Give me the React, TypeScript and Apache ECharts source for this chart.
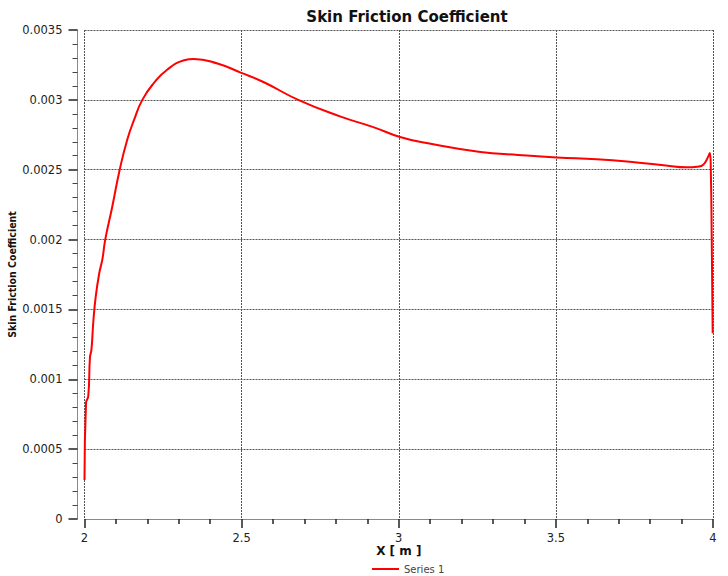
import React, { useEffect, useRef } from "react";
import * as echarts from "echarts";

const xValues: number[] = [
  2.0, 2.0048, 2.012, 2.0175, 2.022, 2.028, 2.0356, 2.047, 2.057, 2.066, 2.0885, 2.112,
  2.136, 2.158, 2.184, 2.221, 2.263, 2.317, 2.348, 2.423, 2.497, 2.571, 2.68, 2.813,
  2.919, 3.004, 3.089, 3.26, 3.38, 3.503, 3.63, 3.757, 3.85, 3.916, 3.95, 3.969,
  3.985, 3.99, 3.993, 3.996, 3.999,
];
const cfValues: number[] = [
  0.00028, 0.00083, 0.00088, 0.00116, 0.00121, 0.00141, 0.00159, 0.00176, 0.00186, 0.002,
  0.002237, 0.0025, 0.002715, 0.002858, 0.003, 0.003121, 0.003216, 0.003283, 0.003293,
  0.00326, 0.003195, 0.003126, 0.003, 0.002882, 0.002805, 0.002734, 0.002691,
  0.002627, 0.002606, 0.002588, 0.002575, 0.002552, 0.00253, 0.002517, 0.002522, 0.002536,
  0.002595, 0.00262, 0.0025, 0.002, 0.00133,
];

const titleText = "Skin Friction Coefficient";
const xAxisName = "X [ m ]";
const yAxisName = "Skin Friction Coefficient";
const seriesName = "Series 1";

export default function App() {
  const ref = useRef<HTMLDivElement>(null);
  useEffect(() => {
    document.body.style.margin = "0";
    const chart = echarts.init(ref.current!, undefined, { renderer: "svg" });
    const font = "DejaVu Sans";
    const gridLine = { show: true, lineStyle: { color: "#555", type: [2, 1] as any, width: 1 } };
    chart.setOption({
      animation: false,
      backgroundColor: "#fff",
      title: {
        text: titleText,
        left: 402,
        textAlign: "center",
        top: 4,
        textStyle: { fontFamily: font, fontSize: 15, fontWeight: "bold", color: "#111" },
      },
      legend: {
        left: 367,
        top: 559,
        icon: "rect",
        itemWidth: 27,
        itemHeight: 2,
        itemGap: 10,
        textStyle: { fontFamily: font, fontSize: 10, color: "#444" },
        data: [seriesName],
      },
      grid: {
        left: 84.5,
        right: 15,
        top: 30,
        bottom: 57,
        containLabel: false,
        outerBoundsMode: "none",
      } as any,
      xAxis: {
        type: "value",
        min: 2,
        max: 4,
        interval: 0.5,
        offset: 5,
        name: xAxisName,
        nameLocation: "middle",
        nameGap: 20,
        nameMoveOverlap: false,
        nameTextStyle: { fontFamily: font, fontSize: 12, fontWeight: "bold", color: "#111", lineHeight: 13 },
        axisLine: { show: true, lineStyle: { color: "#888", width: 1 } },
        axisTick: { show: true, length: 9, lineStyle: { color: "#222", width: 1.5 } },
        minorTick: { show: true, splitNumber: 5, length: 5, lineStyle: { color: "#222", width: 1.5 } },
        axisLabel: { fontFamily: font, fontSize: 11.5, color: "#222", margin: 8, lineHeight: 12 },
        splitLine: gridLine,
      } as any,
      yAxis: {
        type: "value",
        min: 0,
        max: 0.0035,
        interval: 0.0005,
        offset: 7,
        name: yAxisName,
        nameLocation: "middle",
        nameGap: 60,
        nameMoveOverlap: false,
        nameTextStyle: {
          fontFamily: "DejaVu Sans Condensed",
          fontSize: 10.5,
          fontWeight: "bold",
          color: "#111",
        },
        axisLine: { show: true, lineStyle: { color: "#888", width: 1 } },
        axisTick: { show: true, length: 9, lineStyle: { color: "#222", width: 1.5 } },
        minorTick: { show: true, splitNumber: 5, length: 5, lineStyle: { color: "#444", width: 1 } },
        axisLabel: {
          fontFamily: font,
          fontSize: 11.5,
          color: "#222",
          margin: 15,
          formatter: (v: number) => parseFloat(v.toFixed(4)).toString(),
        },
        splitLine: gridLine,
      } as any,
      series: [
        {
          name: seriesName,
          type: "line",
          data: xValues.map((x, i) => [x, cfValues[i]]),
          showSymbol: false,
          symbol: "none",
          smooth: 0.5,
          lineStyle: { color: "#ff0000", width: 2 },
          itemStyle: { color: "#ff0000" },
        },
      ],
    });
    return () => chart.dispose();
  }, []);
  return <div ref={ref} style={{ width: 728, height: 576 }} />;
}
